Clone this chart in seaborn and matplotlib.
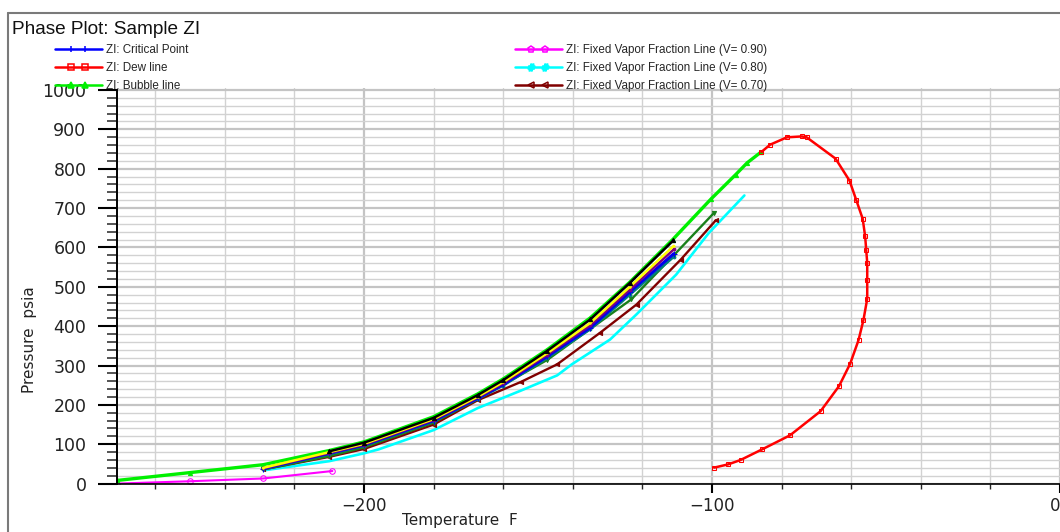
import matplotlib
matplotlib.use('Agg')
import matplotlib.pyplot as plt
import seaborn as sns
import numpy as np
from matplotlib.lines import Line2D
from matplotlib.legend_handler import HandlerLine2D, HandlerTuple
from matplotlib.ticker import MultipleLocator

sns.set_theme(style='white')
plt.rcParams['font.family'] = ['DejaVu Sans']

### data (temperature F, pressure psia)
dew_T = [-99.4, -95.3, -91.8, -85.6, -77.6, -68.8, -63.5, -60.3, -57.9, -56.5, -55.4, -55.4,
         -55.4, -55.7, -56.0, -56.7, -58.6, -60.5, -64.5, -72.8, -74.2, -78.5, -83.3, -85.8]
dew_P = [40.6, 49, 60, 87, 122.6, 184, 247.7, 304.6, 364.5, 415, 469.5, 518.5,
         561, 594.7, 628.4, 672.6, 721.6, 769.8, 825.6, 879.7, 882, 879.7, 861, 842.6]

bubble_T = [-271, -250, -229, -210, -200, -180, -167.3, -160, -147.4, -135, -123.6, -111.3,
            -100.4, -93.2, -89.9, -85.8]
bubble_P = [8, 28, 48, 84, 106, 170, 228, 266, 340, 421, 512, 620, 722, 785, 815, 843]

v90_T = [-271, -250, -229, -209.1]
v90_P = [0, 6, 13, 32]

v80_T = [-228.6, -210, -200, -195.8, -180, -167.3, -155, -144.5, -140.3, -129.3, -121.7,
         -110.3, -100.9, -90.7]
v80_P = [34, 57, 77, 87, 136, 192, 236, 275, 303, 366, 430, 531, 637, 732]

v70_T = [-229, -210, -200, -180, -167.3, -155, -144.5, -132.2, -121.7, -109, -98.9]
v70_P = [36, 68, 88, 150, 212, 258, 303, 383, 455, 569, 669]

# further vapour fraction lines inside the bundle (not in the visible legend)
bundle_T = [-229, -210, -200, -180, -167.3, -160, -147.4, -135, -123.6, -111]
dkgreen_T = [-229, -210, -200, -180, -167.3, -147.4, -123.2, -111, -99.4]
dkgreen_P = [36, 70, 92, 155, 215, 314, 468, 580, 688]
black_T = [-210, -200, -180, -167.3, -160, -147.4, -135, -123.6, -111.1]
black_P = [82, 104, 167, 225, 263, 337, 417, 510, 618]
yellow_P = [40, 80, 101, 164, 221, 258, 331, 408, 500, 604]
purple_P = [39, 78, 99, 162, 219, 255, 327, 402, 493, 595]
crit_P = [38, 77, 98, 160, 217, 252, 323, 396, 487, 584]
teal_P = [37, 75, 96, 158, 215, 249, 319, 392, 480, 576]

### figure
fig = plt.figure(figsize=(10.6, 5.32), dpi=100)
fig.patch.set_facecolor('white')
ax = fig.add_axes([117/1060, 1-484/532, 1-117/1060, (484-88)/532])
ax.set_facecolor('white')

def draw(T, P, color, marker, ms=3, lw=1.5, mfc=None, z=2):
    sns.lineplot(x=T, y=P, sort=False, estimator=None, color=color, marker=marker,
                 markersize=ms, lw=lw, mfc=color if mfc is None else mfc, mec=color,
                 ax=ax, zorder=z)

draw(v90_T, v90_P, '#ff00ff', 'o', ms=4, mfc='none')
draw(bubble_T, bubble_P, '#00f000', '^', ms=3, lw=2.4)
draw(v80_T, v80_P, '#00ffff', 'none', lw=1.9)
draw(v70_T, v70_P, '#800000', '<', ms=3, lw=1.7)
draw(dkgreen_T, dkgreen_P, '#1a801a', 'v', ms=3, lw=1.7)
draw(bundle_T, teal_P, '#008080', 'o', ms=2, lw=1.8)
draw(bundle_T, crit_P, '#0000ee', '+', ms=4, lw=2.2)
draw(bundle_T, purple_P, '#800080', 'o', ms=2, lw=1.8)
draw(bundle_T, yellow_P, '#ffff00', '.', ms=2, lw=1.8)
draw(black_T, black_P, '#000000', '^', ms=3, lw=1.8)
draw(dew_T, dew_P, '#ff0000', 's', ms=3.5, lw=1.8, mfc='none')

ax.set_xlim(-271, 0)
ax.set_ylim(-1, 1005)
ax.set_xticks([-200, -100, 0])
ax.set_xticklabels(['\u2212200', '\u2212100', '0'])
ax.xaxis.set_minor_locator(MultipleLocator(20))
ax.set_yticks(np.arange(0, 1001, 100))
ax.yaxis.set_minor_locator(MultipleLocator(20))

ax.grid(which='major', axis='both', color='#c4c4c4', lw=1.6, zorder=0)
ax.grid(which='minor', axis='both', color='#d2d2d2', lw=1.0, zorder=0)
ax.set_axisbelow(True)

for s in ['top', 'right']:
    ax.spines[s].set_visible(False)
ax.spines['left'].set_color('black')
ax.spines['left'].set_linewidth(1.4)
ax.spines['left'].set_bounds(0, 1000)
ax.spines['bottom'].set_color('black')
ax.spines['bottom'].set_linewidth(1.2)

ax.tick_params(axis='y', which='major', direction='out', length=14, width=1.5,
               labelsize=12.5, pad=8, colors='black', left=True)
ax.tick_params(axis='y', which='minor', direction='out', length=7, width=1.1, left=True)
ax.tick_params(axis='x', which='major', direction='out', length=6.5, width=1.5,
               labelsize=12, pad=3, colors='black', bottom=True)
ax.tick_params(axis='x', which='minor', direction='out', length=3.5, width=1.0, bottom=True)
ax.tick_params(axis='x', labelcolor='#222222')
ax.tick_params(axis='y', labelcolor='#222222')
ax.xaxis.get_major_ticks()[-1].label1.set_horizontalalignment('right')

ax.set_xlabel('Temperature  F', fontsize=11, color='#222222')
ax.set_ylabel('Pressure  psia', fontsize=11, color='#222222')
ax.xaxis.set_label_coords(0.364, -0.074)
ax.yaxis.set_label_coords(-0.085, 0.364)

fig.text(12/1060, 1-30/532, 'Phase Plot: Sample ZI', fontsize=13.7, va='center', ha='left',
         family=['Liberation Sans', 'DejaVu Sans'], color='#111111')

### legends
def handle(color, marker, mfc=None):
    line = Line2D([], [], color=color, lw=1.8)
    mark = Line2D([], [], color=color, lw=0, marker=marker, markersize=5,
                  mfc=color if mfc is None else mfc, mec=color, mew=1.1)
    return (line, mark)

left_handles = [handle('#0000ff', '|'), handle('#ff0000', 's', 'none'), handle('#00f000', '^')]
left_labels = ['ZI: Critical Point', 'ZI: Dew line', 'ZI: Bubble line']
right_handles = [handle('#ff00ff', 'p', 'none'), handle('#00ffff', '$\\#$'), handle('#800000', '<', 'none')]
right_labels = ['ZI: Fixed Vapor Fraction Line (V= 0.90)', 'ZI: Fixed Vapor Fraction Line (V= 0.80)',
                'ZI: Fixed Vapor Fraction Line (V= 0.70)']

hmap = {tuple: HandlerTuple(ndivide=1, pad=0)}
for ln, mk in left_handles + right_handles:
    hmap[ln] = HandlerLine2D(marker_pad=0, numpoints=2)
    hmap[mk] = HandlerLine2D(marker_pad=1.4, numpoints=2)

leg_kw = dict(loc='upper left', frameon=False, handlelength=4.0,
              handletextpad=0.35, labelspacing=0.5, borderpad=0, borderaxespad=0,
              prop={'family': ['Liberation Sans', 'DejaVu Sans'], 'size': 8.4},
              handler_map=hmap)
fig.legend(left_handles, left_labels, bbox_to_anchor=(55/1060, 1-44/532), **leg_kw)
fig.legend(right_handles, right_labels, bbox_to_anchor=(515/1060, 1-44/532), **leg_kw)

### outer frame
fig.add_artist(Line2D([8/1060, 8/1060], [0, 1-13/532], color='#7a7a7a', lw=1.5,
                      transform=fig.transFigure))
fig.add_artist(Line2D([8/1060, 1], [1-13/532, 1-13/532], color='#7a7a7a', lw=1.5,
                      transform=fig.transFigure))

fig.savefig('out.png', dpi=100)
